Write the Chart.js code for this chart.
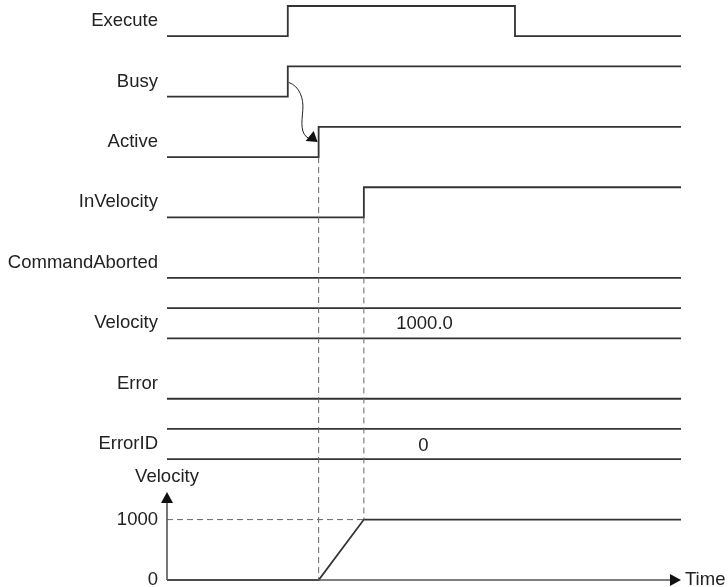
<!DOCTYPE html>
<html>
<head>
<meta charset="utf-8">
<script src="https://cdn.jsdelivr.net/npm/chart.js@4.4.1/dist/chart.umd.min.js"></script>
<style>
  body { margin: 0; background: #fff; }
  #wrap { width: 728px; height: 587px; position: relative; }
</style>
</head>
<body>
<div id="wrap"><canvas id="timing"></canvas></div>
<script>
// Signal rows, top to bottom
const signalNames = ['Execute', 'Busy', 'Active', 'InVelocity', 'CommandAborted', 'Velocity', 'Error', 'ErrorID'];

// Bit signals as [time, level] change points
const executeSteps = [[0, 0], [23.5, 1], [67.7, 0]];
const busySteps = [[0, 0], [23.5, 1]];
const activeSteps = [[0, 0], [29.5, 1]];
const inVelocitySteps = [[0, 0], [38.3, 1]];
const commandAbortedSteps = [[0, 0]];
const errorSteps = [[0, 0]];

// Bus values shown inside the boxes
const velocityBusText = '1000.0';
const errorIdBusText = '0';

// Velocity profile
const velocityTimes = [0, 29.5, 38.3, 100];
const velocityValues = [0, 0, 1000, 1000];
const velocityTicks = [0, 1000];

const T_END = 100;
const LINE = '#333';
const GUIDE = '#666';

function rowLevel(row, bit) {
  return -2 * row + bit;
}

function stepPoints(row, steps) {
  const pts = steps.map(s => ({ x: s[0], y: rowLevel(row, s[1]) }));
  pts.push({ x: T_END, y: rowLevel(row, steps[steps.length - 1][1]) });
  return pts;
}

function flat(row, bit) {
  return [{ x: 0, y: rowLevel(row, bit) }, { x: T_END, y: rowLevel(row, bit) }];
}

const base = { showLine: true, pointRadius: 0, borderColor: LINE, borderWidth: 1.8, clip: false, yAxisID: 'ys' };

const datasets = [
  { ...base, data: stepPoints(0, executeSteps), stepped: 'before' },
  { ...base, data: stepPoints(1, busySteps), stepped: 'before' },
  { ...base, data: stepPoints(2, activeSteps), stepped: 'before' },
  { ...base, data: stepPoints(3, inVelocitySteps), stepped: 'before' },
  { ...base, data: stepPoints(4, commandAbortedSteps), stepped: 'before' },
  { ...base, data: flat(5, 1) },
  { ...base, data: flat(5, 0) },
  { ...base, data: stepPoints(6, errorSteps), stepped: 'before' },
  { ...base, data: flat(7, 1) },
  { ...base, data: flat(7, 0) },
  { ...base, yAxisID: 'yv', data: velocityTimes.map((t, i) => ({ x: t, y: velocityValues[i] })) }
];

const ysMin = -18, ysMax = 1;
// one velocity unit of 1000 equals one row pitch (2 units)
const yvMax = 1000 * (ysMax - ysMin) / 2;

const FONT = '18.5px "Liberation Sans", Arial, sans-serif';

const decor = {
  id: 'decor',
  afterDatasetsDraw(chart) {
    const ctx = chart.ctx;
    const x = chart.scales.x, ys = chart.scales.ys, yv = chart.scales.yv;
    const px = t => x.getPixelForValue(t);
    const py = v => ys.getPixelForValue(v);
    const pv = v => yv.getPixelForValue(v);
    const left = px(0);

    ctx.save();
    // dashed guides
    ctx.strokeStyle = GUIDE;
    ctx.lineWidth = 1;
    ctx.setLineDash([6, 4]);
    ctx.beginPath();
    ctx.moveTo(px(activeSteps[1][0]), py(rowLevel(2, 0)));
    ctx.lineTo(px(activeSteps[1][0]), pv(0));
    ctx.moveTo(px(inVelocitySteps[1][0]), py(rowLevel(3, 0)));
    ctx.lineTo(px(inVelocitySteps[1][0]), pv(1000));
    ctx.moveTo(left, pv(1000));
    ctx.lineTo(px(inVelocitySteps[1][0]), pv(1000));
    ctx.stroke();
    ctx.setLineDash([]);

    // velocity axes
    const tipY = pv(0) - 88;
    ctx.strokeStyle = '#555';
    ctx.lineWidth = 1.6;
    ctx.beginPath();
    ctx.moveTo(left, pv(0));
    ctx.lineTo(left, tipY + 8);
    ctx.moveTo(left, pv(0));
    ctx.lineTo(px(T_END) - 8, pv(0));
    ctx.stroke();
    ctx.fillStyle = '#111';
    ctx.beginPath();
    ctx.moveTo(left, tipY);
    ctx.lineTo(left - 6, tipY + 11);
    ctx.lineTo(left + 6, tipY + 11);
    ctx.closePath();
    ctx.fill();
    const ax = px(T_END);
    ctx.beginPath();
    ctx.moveTo(ax, pv(0));
    ctx.lineTo(ax - 11, pv(0) - 6);
    ctx.lineTo(ax - 11, pv(0) + 6);
    ctx.closePath();
    ctx.fill();

    // curved cause arrow Busy -> Active
    const sx = px(busySteps[1][0]) + 1, sy = py(rowLevel(1, 0.47));
    const ex = px(activeSteps[1][0]) - 1, ey = py(rowLevel(2, 0.5));
    ctx.strokeStyle = '#222';
    ctx.lineWidth = 1;
    ctx.beginPath();
    ctx.moveTo(sx, sy);
    ctx.bezierCurveTo(sx + 11, sy + 4, sx + 15, sy + 16, sx + 14, sy + 28);
    ctx.bezierCurveTo(sx + 13, sy + 40, sx + 11, sy + 52, ex - 8, ey - 3);
    ctx.stroke();
    ctx.fillStyle = '#111';
    ctx.beginPath();
    ctx.moveTo(ex, ey);
    ctx.lineTo(ex - 12, ey - 1);
    ctx.lineTo(ex - 4, ey - 11);
    ctx.closePath();
    ctx.fill();

    // texts
    ctx.font = FONT;
    ctx.fillStyle = '#222';
    ctx.textBaseline = 'middle';
    ctx.textAlign = 'right';
    signalNames.forEach((name, row) => {
      ctx.fillText(name, left - 9, py(rowLevel(row, 0.5)));
    });
    velocityTicks.forEach(v => ctx.fillText(String(v), left - 9, pv(v)));
    ctx.textAlign = 'left';
    ctx.fillText(velocityBusText, px(44.6), py(rowLevel(5, 0.5)) + 1);
    ctx.fillText('Time', ax + 4, pv(0));
    ctx.textAlign = 'center';
    ctx.fillText(errorIdBusText, px(49.9), py(rowLevel(7, 0.5)) + 2);
    ctx.fillText('Velocity', left, pv(0) - 103);
    ctx.restore();
  }
};

new Chart(document.getElementById('timing'), {
  type: 'scatter',
  data: { datasets: datasets },
  options: {
    responsive: true,
    maintainAspectRatio: false,
    animation: false,
    layout: { padding: { left: 167, right: 47, top: 6, bottom: 7 } },
    plugins: { legend: { display: false }, tooltip: { enabled: false } },
    scales: {
      x: { type: 'linear', min: 0, max: T_END, display: false },
      ys: { type: 'linear', min: ysMin, max: ysMax, display: false },
      yv: { type: 'linear', min: 0, max: yvMax, display: false }
    }
  },
  plugins: [decor]
});
</script>
</body>
</html>
